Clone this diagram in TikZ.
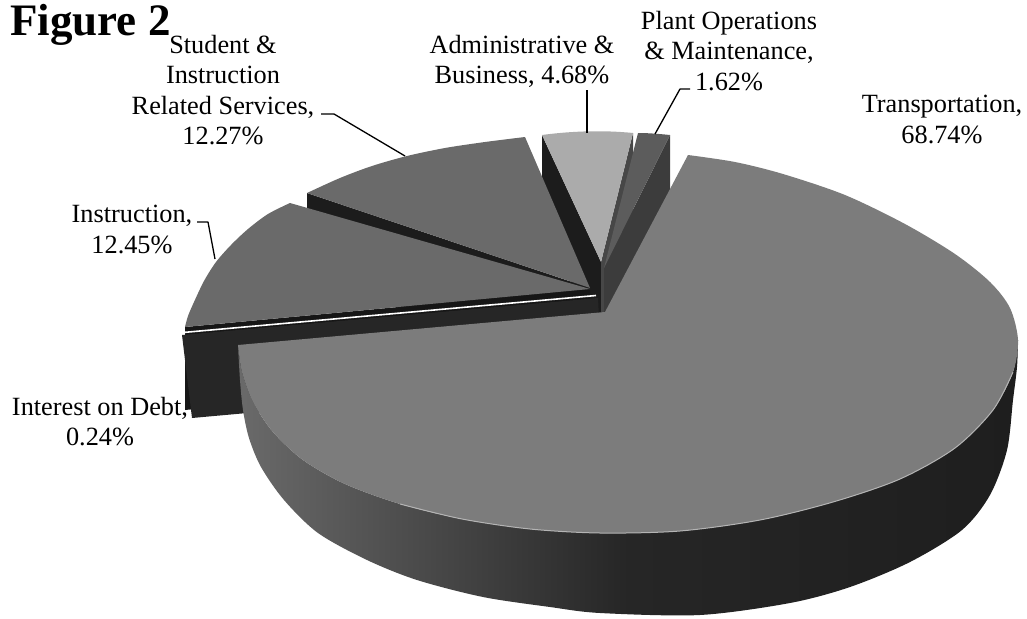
\documentclass[tikz,border=0pt]{standalone}
\usepackage{fontspec}
\setmainfont{Liberation Serif}
\definecolor{transTop}{HTML}{7C7C7C}
\definecolor{sliceTop}{HTML}{6A6A6A}
\definecolor{adminTop}{HTML}{ABABAB}
\definecolor{adminWall}{HTML}{474747}
\definecolor{plantTop}{HTML}{5C5C5C}
\definecolor{plantWall}{HTML}{3C3C3C}
\definecolor{wallDark}{HTML}{1C1C1C}
\definecolor{wallBlack}{HTML}{161616}
\definecolor{interestWall}{HTML}{262626}
\definecolor{wallL}{HTML}{6A6A6A}
\definecolor{wallM}{HTML}{262626}
\definecolor{wallR}{HTML}{1E1E1E}
\definecolor{rimLight}{HTML}{B4B4B4}
\begin{document}
\begin{tikzpicture}[x=1pt,y=-1pt,line join=round,
  lbl/.style={font=\fontsize{26.3}{30.5}\selectfont, align=center, inner sep=0pt, anchor=north},
  figlbl/.style={font=\bfseries\fontsize{45}{50}\selectfont, anchor=base west, inner sep=0pt},
  leader/.style={draw=black, line width=1.3pt}]
\useasboundingbox (0,0) rectangle (1027,618);
% Administrative & Business
\fill[wallDark] (542,135) -- (601,262) -- (601,347) -- (542,220) -- cycle;
\fill[adminWall] (633,133) -- (601,262) -- (601,347) -- (633,218) -- cycle;
\fill[adminTop] (542,135) .. controls (572,131) and (603,130) .. (633,133) -- (601,262) -- cycle;
% Plant Operations & Maintenance
\fill[plantWall] (670,135) -- (604,268) -- (604,353) -- (670,220) -- cycle;
\fill[plantTop] (638,133) .. controls (649,133) and (660,134) .. (670,135) -- (604,268) -- cycle;
% Student & Instruction Related Services
\fill[wallDark] (307,193) -- (590,288) -- (590,372) -- (307,276) -- cycle;
\fill[sliceTop] (590,288) -- (307,193) -- plot[smooth] coordinates {(307,193) (340,178) (372,166) (407,156) (445,148) (485,142) (525,137)} -- cycle;
% Instruction
\fill[wallBlack] (185,327) -- (590,289) -- (590,372) -- (185,410) -- cycle;
\fill[sliceTop] (590,289) -- (290,203) -- plot[smooth] coordinates {(290,203) (268,214) (248,229) (231,245) (216,262) (204,281) (194,302) (188,316) (185,327)} -- cycle;
% Interest on Debt
\fill[interestWall] (182,335) -- (598,298) -- (602,381) -- (192,418) -- cycle;
\draw[white, line width=1.6pt] (183,332.5) -- (596,295.5);
% Transportation: outer wall
\shade[left color=wallL, right color=wallR, middle color=wallM]
  plot[smooth] coordinates {(238,345) (242,372) (253,402) (273,432) (303,460) (345,484) (400,504) (462,519) (530,529) (600,533) (680,531) (760,520) (833,502) (900,479) (955,448) (993,410) (1013,372) (1018,340)}
  -- plot[smooth] coordinates {(1018,340) (1017,367) (1013,400) (1007,450) (990,495) (962,530) (910,562) (850,587) (790,603) (700,615) (600,613) (550,607) (483,597) (417,580) (367,560) (318,533) (284,500) (261,467) (249,438) (243,410) (240,380) (238,345)}
  -- cycle;
% Transportation: top face
\fill[transTop] (605,312) -- (238,345) -- plot[smooth] coordinates {(238,345) (242,372) (253,402) (273,432) (303,460) (345,484) (400,504) (462,519) (530,529) (600,533) (680,531) (760,520) (833,502) (900,479) (955,448) (993,410) (1013,372) (1018,340) (1010,308) (990,282) (955,254) (905,224) (845,195) (783,174) (735,162) (688,155)} -- cycle;
\draw[rimLight, line width=1pt] plot[smooth] coordinates {(400,504) (462,519) (530,529) (600,533) (680,531) (760,520) (833,502) (900,479) (955,448) (993,410) (1013,372)};
% leader lines
\coordinate (stuA) at (321,114); \coordinate (stuB) at (405,156);
\coordinate (admA) at (587,90);  \coordinate (admB) at (587,133);
\coordinate (plaA) at (690,89);  \coordinate (plaB) at (655,134);
\coordinate (insA) at (197,222); \coordinate (insB) at (215,259);
\draw[leader] (stuA) -- ++(13,0) -- (stuB);
\draw[leader] (admA) -- (admB);
\draw[leader] (plaA) -- ++(-10,0) -- (plaB);
\draw[leader] (insA) -- ++(11,0) -- (insB);
% labels
\node[figlbl] (fig) at (10,36) {Figure 2};
\node[lbl] (stu) at (223,35) {Student \&\\Instruction\\Related Services,\\12.27\%};
\node[lbl] (adm) at (522,35) {Administrative \&\\Business, 4.68\%};
\node[lbl] (pla) at (729,11) {Plant Operations\\\& Maintenance,\\1.62\%};
\node[lbl] (tra) at (942,95) {Transportation,\\68.74\%};
\node[lbl] (ins) at (132,205) {Instruction,\\12.45\%};
\node[lbl] (int) at (100,397) {Interest on Debt,\\0.24\%};
\end{tikzpicture}
\end{document}
